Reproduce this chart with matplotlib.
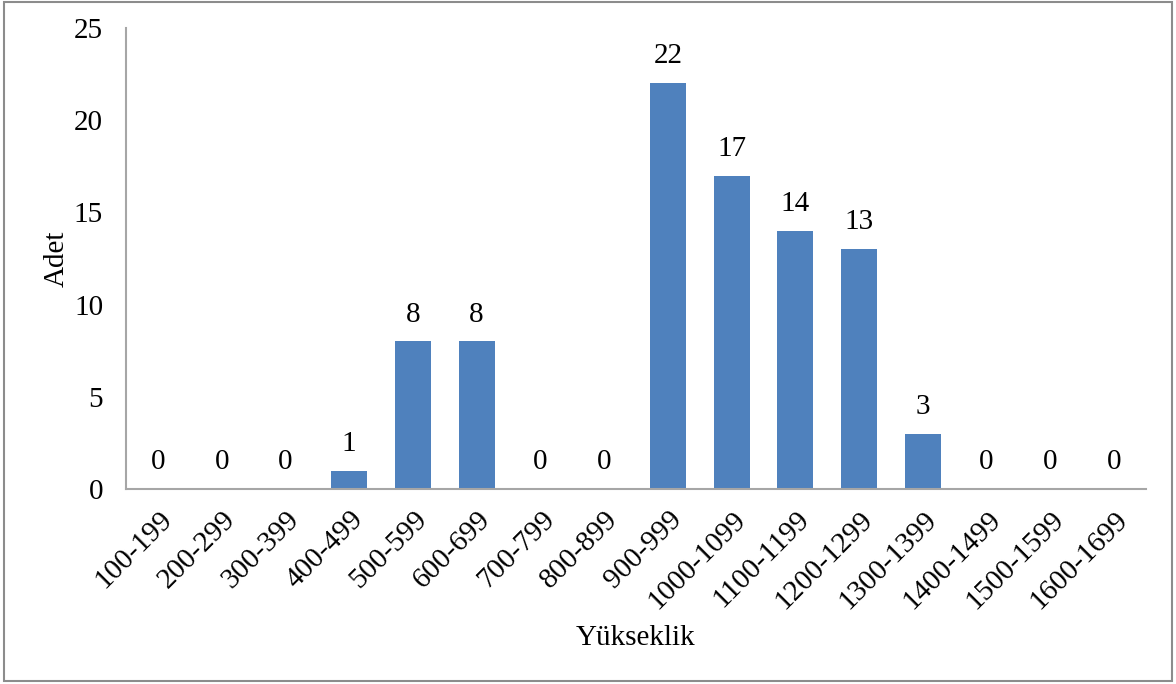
import matplotlib
matplotlib.use("Agg")
import matplotlib.pyplot as plt
from matplotlib.patches import Rectangle
from matplotlib.transforms import ScaledTranslation

plt.rcParams.update({
    "font.family": "Liberation Serif",
    "font.size": 21,
})

# Yükseklik sınıfları ve adetler
categories = ["100-199", "200-299", "300-399", "400-499", "500-599", "600-699",
              "700-799", "800-899", "900-999", "1000-1099", "1100-1199",
              "1200-1299", "1300-1399", "1400-1499", "1500-1599", "1600-1699"]
counts = [0, 0, 0, 1, 8, 8, 0, 0, 22, 17, 14, 13, 3, 0, 0, 0]

BAR_COLOR = "#4F81BD"
AXIS_COLOR = "#A6A6A6"

fig = plt.figure(figsize=(11.76, 6.84), dpi=100)
ax = fig.add_axes([126 / 1176, 1 - 489 / 684, (1146 - 126) / 1176, (489 - 28) / 684])

x = range(len(categories))
bars = ax.bar(x, counts, width=0.565, color=BAR_COLOR)

for xi, c in zip(x, counts):
    ax.text(xi, c + 0.75, str(c), ha="center", va="bottom", fontsize=21)

ax.set_xlim(-0.5, len(categories) - 0.5)
ax.set_ylim(0, 25)
ax.set_yticks(range(0, 26, 5))
ax.set_xticks(list(x))
ax.set_xticklabels(categories, rotation=45, ha="right", va="center",
                   rotation_mode="anchor")
ax.tick_params(axis="x", length=0, pad=19)
ax.tick_params(axis="y", length=0, pad=16.5)

# nudge rotated labels so their upper end sits at the category centre
shift = ScaledTranslation(10 / 100, 0, fig.dpi_scale_trans)
for lbl in ax.get_xticklabels():
    lbl.set_transform(lbl.get_transform() + shift)

for side in ["top", "right"]:
    ax.spines[side].set_visible(False)
for side in ["left", "bottom"]:
    ax.spines[side].set_color(AXIS_COLOR)
    ax.spines[side].set_linewidth(1.5)

ax.set_xlabel("Yükseklik", labelpad=8)
ax.set_ylabel("Adet")
ax.yaxis.set_label_coords(-0.055, 0.5)

# outer chart border
fig.patches.append(Rectangle((0.003, 0.004), 0.994, 0.993, transform=fig.transFigure,
                             fill=False, edgecolor="#8C8C8C", linewidth=1.5))

fig.savefig("out.png", dpi=100)
